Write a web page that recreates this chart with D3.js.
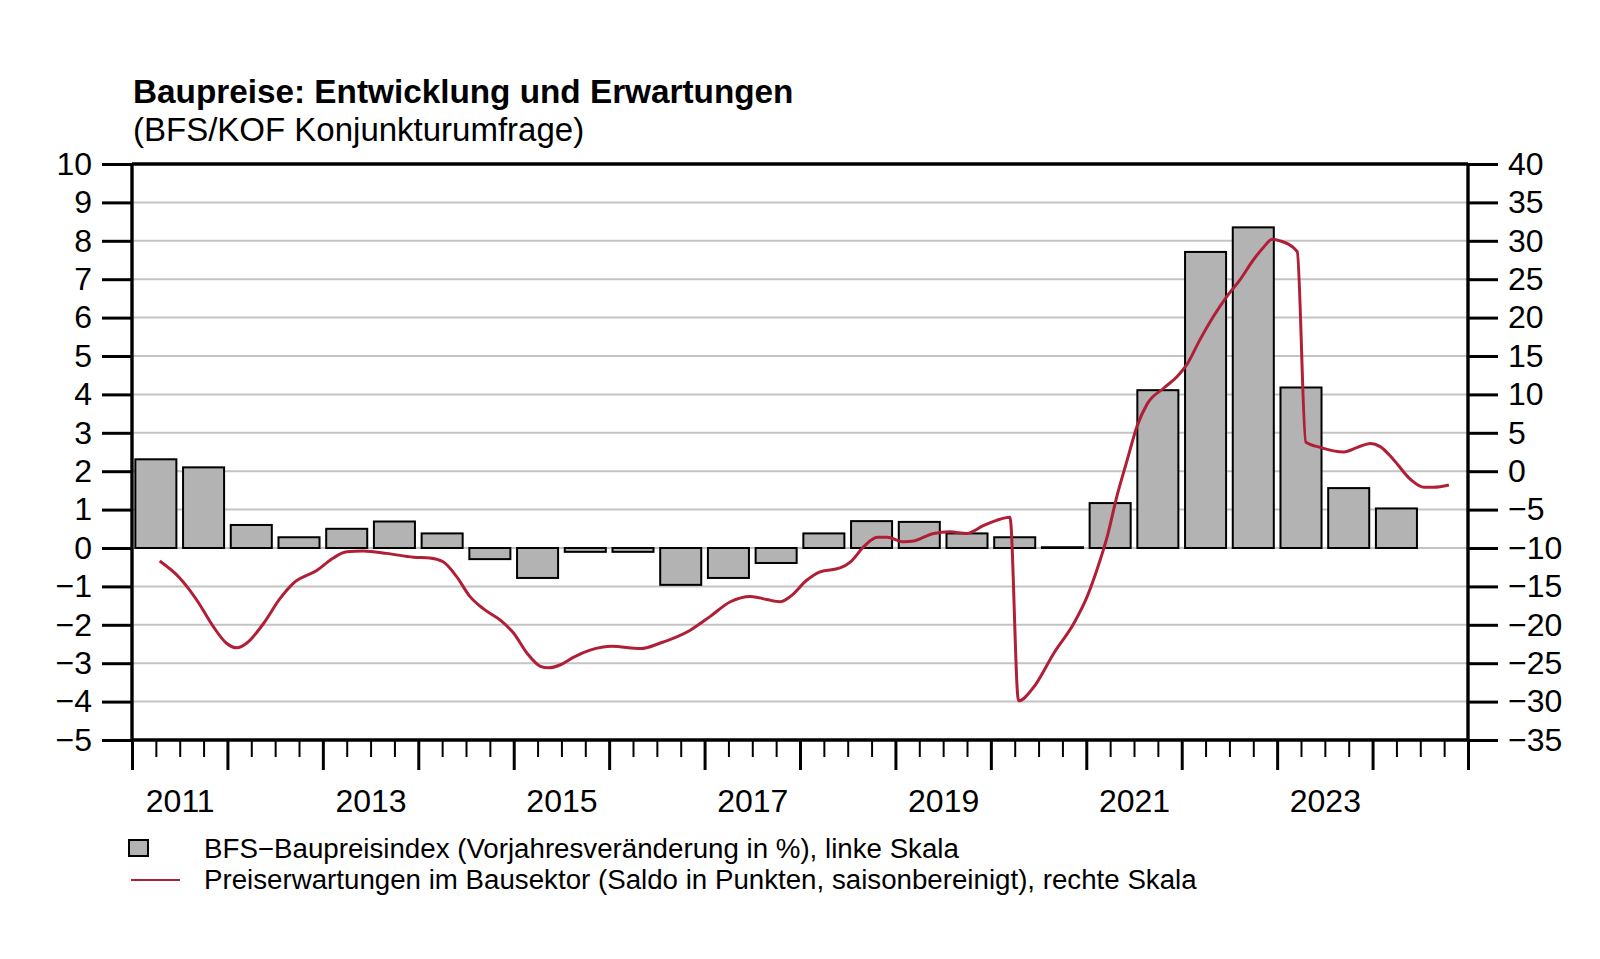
<!DOCTYPE html>
<html>
<head>
<meta charset="utf-8">
<script src="https://cdn.jsdelivr.net/npm/d3@7"></script>
<style>
  html, body { margin: 0; padding: 0; background: #fff; }
  svg { display: block; font-family: "Liberation Sans", Arial, Helvetica, sans-serif; }
</style>
</head>
<body>
<svg id="chart" width="1600" height="959"></svg>
<script>
// ---------- DATA ----------
const title = "Baupreise: Entwicklung und Erwartungen";
const subtitle = "(BFS/KOF Konjunkturumfrage)";
const legendBars = "BFS\u2212Baupreisindex (Vorjahresveränderung in %), linke Skala";
const legendLine = "Preiserwartungen im Bausektor (Saldo in Punkten, saisonbereinigt), rechte Skala";

// semi-annual periods (year, half)
const barPeriods = [
  "2011-H1","2011-H2","2012-H1","2012-H2","2013-H1","2013-H2","2014-H1","2014-H2",
  "2015-H1","2015-H2","2016-H1","2016-H2","2017-H1","2017-H2","2018-H1","2018-H2",
  "2019-H1","2019-H2","2020-H1","2020-H2","2021-H1","2021-H2","2022-H1","2022-H2",
  "2023-H1","2023-H2","2024-H1"
];
const barValues = [
  2.31, 2.10, 0.60, 0.28, 0.50, 0.69, 0.38, -0.29,
  -0.78, -0.10, -0.10, -0.96, -0.78, -0.39, 0.38, 0.70,
  0.68, 0.38, 0.28, 0.02, 1.17, 4.11, 7.71, 8.35,
  4.18, 1.56, 1.03
];

// price expectations (decimal year, balance in points)
const lineTimes = [
  2011.29, 2011.50, 2011.68, 2011.85, 2011.99, 2012.10, 2012.20, 2012.38, 2012.55, 2012.69,
  2012.94, 2013.11, 2013.25, 2013.42, 2013.67, 2013.95, 2014.12, 2014.26, 2014.40, 2014.54,
  2014.68, 2014.86, 2015.00, 2015.14, 2015.28, 2015.36, 2015.49, 2015.63, 2015.80, 2016.03,
  2016.33, 2016.53, 2016.85, 2017.06, 2017.27, 2017.48, 2017.65, 2017.79, 2017.90, 2018.07,
  2018.21, 2018.42, 2018.53, 2018.67, 2018.81, 2018.91, 2019.09, 2019.19, 2019.40, 2019.57,
  2019.75, 2019.92, 2020.06, 2020.20, 2020.29, 2020.45, 2020.66, 2020.87, 2021.01, 2021.11,
  2021.22, 2021.32, 2021.43, 2021.53, 2021.64, 2021.81, 2021.95, 2022.06, 2022.19, 2022.33,
  2022.47, 2022.61, 2022.75, 2022.86, 2022.95, 2023.03, 2023.21, 2023.30, 2023.45, 2023.70,
  2023.84, 2023.98, 2024.08, 2024.22, 2024.40, 2024.54, 2024.64, 2024.80
];
const lineValues = [
  -11.7, -13.9, -16.8, -20.2, -22.4, -23.0, -22.4, -19.8, -16.6, -14.6,
  -12.9, -11.3, -10.5, -10.4, -10.7, -11.2, -11.3, -11.8, -13.7, -16.3,
  -17.9, -19.4, -21.1, -23.7, -25.4, -25.6, -25.2, -24.2, -23.3, -22.8,
  -23.1, -22.4, -20.7, -18.9, -17.0, -16.3, -16.7, -17.0, -16.3, -14.2,
  -13.1, -12.6, -11.8, -9.8, -8.6, -8.6, -9.2, -9.1, -8.1, -7.9,
  -8.1, -7.1, -6.4, -6.0, -29.9, -28.1, -23.7, -19.8, -16.3, -12.9,
  -8.5, -3.3, 1.5, 5.8, 8.8, 10.8, 12.3, 14.0, 17.1, 20.1,
  22.7, 24.9, 27.5, 29.2, 30.2, 30.0, 28.6, 3.8, 3.1, 2.5,
  3.1, 3.6, 3.2, 1.5, -1.1, -2.1, -2.1, -1.8
];

const leftTicks = d3.range(-5, 11, 1);
const rightTicks = d3.range(-35, 41, 5);
const yearTicks = d3.range(2011, 2026, 1);
const quarterTicks = d3.range(2011, 2025, 0.25).filter(q => q % 1 !== 0);
const yearLabels = [2011, 2013, 2015, 2017, 2019, 2021, 2023];

// ---------- LAYOUT ----------
const plot = { left: 132, right: 1468, top: 164, bottom: 740 };
const svg = d3.select("#chart");

const x = d3.scaleLinear().domain([2011, 2025]).range([plot.left, plot.right]);
const yL = d3.scaleLinear().domain([-5, 10]).range([plot.bottom, plot.top]);
const yR = d3.scaleLinear().domain([-35, 40]).range([plot.bottom, plot.top]);

const fmt = d3.format("d");

// title
svg.append("text").attr("x", 133).attr("y", 103)
  .attr("font-size", 33.3).attr("font-weight", "bold").attr("fill", "#000").text(title);
svg.append("text").attr("x", 133).attr("y", 141)
  .attr("font-size", 33).attr("fill", "#000").text(subtitle);

// gridlines
svg.append("g").selectAll("line")
  .data(leftTicks.filter(t => t > -5 && t < 10))
  .join("line")
  .attr("x1", plot.left).attr("x2", plot.right)
  .attr("y1", d => yL(d)).attr("y2", d => yL(d))
  .attr("stroke", "#c4c4c4").attr("stroke-width", 2);

// bars
const slotOf = p => { const [y, h] = p.split("-H"); return +y + (+h - 1) * 0.5; };
const pad = 0.035;
svg.append("g").selectAll("rect")
  .data(barPeriods.map((p, i) => ({ p, v: barValues[i] })))
  .join("rect")
  .attr("x", d => x(slotOf(d.p) + pad))
  .attr("width", d => x(slotOf(d.p) + 0.5 - pad) - x(slotOf(d.p) + pad))
  .attr("y", d => yL(Math.max(0, d.v)))
  .attr("height", d => Math.abs(yL(d.v) - yL(0)))
  .attr("fill", "#b3b3b3").attr("stroke", "#000").attr("stroke-width", 2);

// line
const line = d3.line()
  .x((d, i) => x(lineTimes[i]))
  .y(d => yR(d))
  .curve(d3.curveMonotoneX);
svg.append("path").datum(lineValues)
  .attr("d", line)
  .attr("fill", "none").attr("stroke", "#b01f35").attr("stroke-width", 3)
  .attr("stroke-linejoin", "round");

// axes
function styleAxis(g, width) {
  g.select(".domain").remove();
  g.selectAll(".tick line").attr("stroke", "#000").attr("stroke-width", width);
  g.selectAll(".tick text").attr("fill", "#000");
}
svg.append("g").attr("transform", `translate(${plot.left},0)`)
  .call(d3.axisLeft(yL).tickValues(leftTicks).tickSize(30).tickPadding(10).tickFormat(fmt))
  .call(g => styleAxis(g, 3))
  .attr("font-size", 32).attr("font-family", null);
svg.append("g").attr("transform", `translate(${plot.right},0)`)
  .call(d3.axisRight(yR).tickValues(rightTicks).tickSize(30).tickPadding(10).tickFormat(fmt))
  .call(g => styleAxis(g, 3))
  .attr("font-size", 32).attr("font-family", null);
svg.append("g").attr("transform", `translate(0,${plot.bottom})`)
  .call(d3.axisBottom(x).tickValues(yearTicks).tickSize(30).tickFormat(""))
  .call(g => styleAxis(g, 3));
svg.append("g").attr("transform", `translate(0,${plot.bottom})`)
  .call(d3.axisBottom(x).tickValues(quarterTicks).tickSize(17).tickFormat(""))
  .call(g => styleAxis(g, 2));
svg.append("g").attr("transform", `translate(0,${plot.bottom})`)
  .call(d3.axisBottom(x).tickValues(yearLabels.map(yv => yv + 0.5)).tickSize(0).tickPadding(49)
        .tickFormat(d => fmt(Math.floor(d))))
  .call(g => styleAxis(g, 0))
  .attr("font-size", 32).attr("font-family", null);

// frame
const frame = svg.append("g").attr("stroke", "#000").attr("stroke-width", 3.4).attr("fill", "none");
frame.append("line").attr("x1", plot.left).attr("x2", plot.right).attr("y1", plot.top).attr("y2", plot.top);
frame.append("line").attr("x1", plot.left).attr("x2", plot.right).attr("y1", plot.bottom).attr("y2", plot.bottom);
frame.append("line").attr("x1", plot.left).attr("x2", plot.left).attr("y1", plot.top).attr("y2", plot.bottom);
frame.append("line").attr("x1", plot.right).attr("x2", plot.right).attr("y1", plot.top).attr("y2", plot.bottom);

// legend
const lg = svg.append("g");
lg.append("rect").attr("x", 129).attr("y", 840).attr("width", 19).attr("height", 16)
  .attr("fill", "#b3b3b3").attr("stroke", "#000").attr("stroke-width", 2);
lg.append("text").attr("x", 204).attr("y", 858).attr("font-size", 27.7).text(legendBars);
lg.append("line").attr("x1", 131).attr("x2", 180).attr("y1", 880).attr("y2", 880)
  .attr("stroke", "#b01f35").attr("stroke-width", 2);
lg.append("text").attr("x", 204).attr("y", 889).attr("font-size", 27.7).text(legendLine);
</script>
</body>
</html>
